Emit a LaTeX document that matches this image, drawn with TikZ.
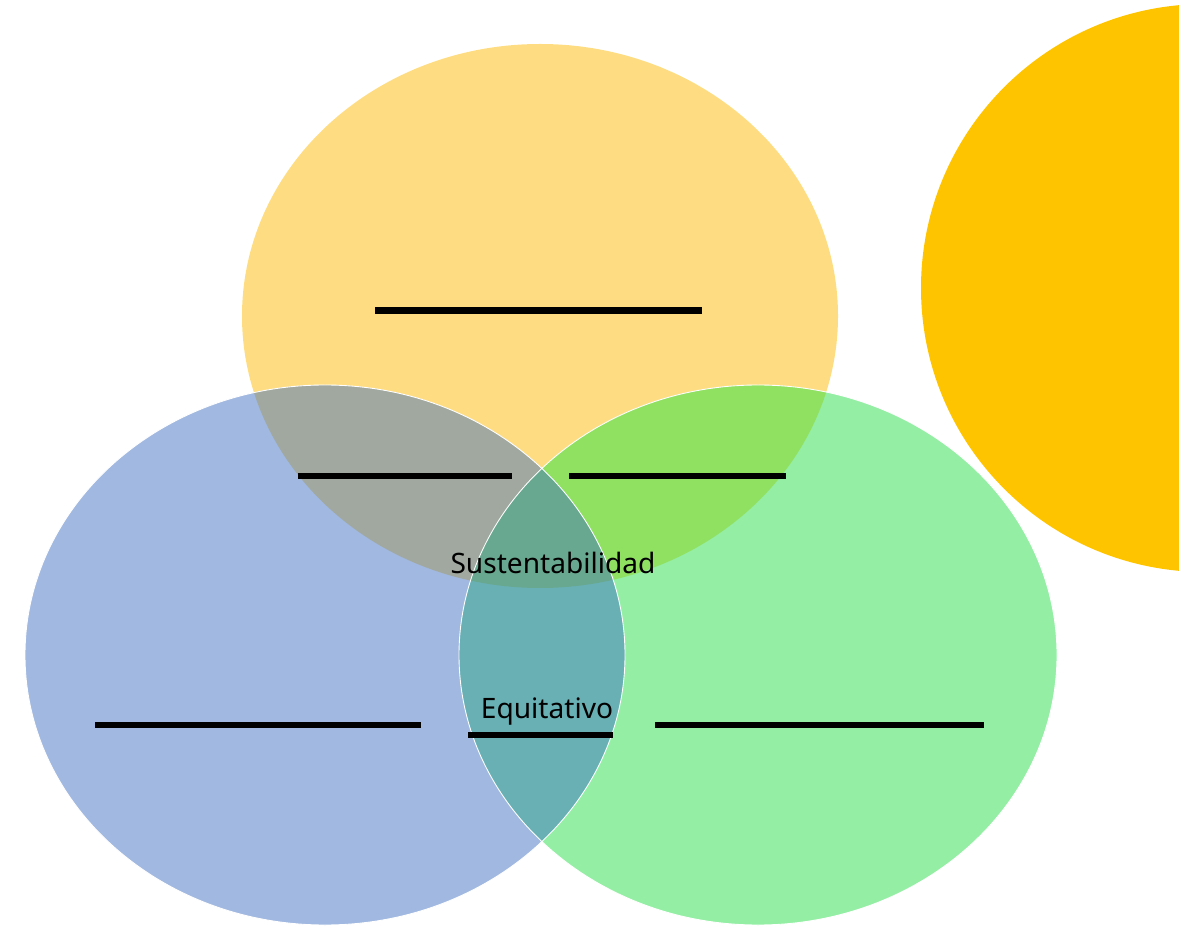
\documentclass[tikz,border=0pt]{standalone}
\usepackage{fontspec}
\setmainfont{Noto Sans}
\usepackage{tikz}
\usetikzlibrary{positioning}

\definecolor{setyellow}{HTML}{FEDD82}
\definecolor{setblue}{HTML}{A1B8E0}
\definecolor{setgreen}{HTML}{94EEA4}
\definecolor{sunorange}{HTML}{FFC400}
\definecolor{yellowblue}{HTML}{A0A8A0}
\definecolor{yellowgreen}{HTML}{90E062}
\definecolor{bluegreen}{HTML}{68B0B4}
\definecolor{allthree}{HTML}{68A890}

\def\ellyellow{(540,316) ellipse [x radius=298, y radius=272]}
\def\ellblue{(325,655) ellipse [x radius=300, y radius=270]}
\def\ellgreen{(758,655) ellipse [x radius=299, y radius=270]}

\begin{document}
\begin{tikzpicture}[x=0.02cm,y=-0.02cm,
    blank/.style={line width=3.9pt,line cap=butt},
    setlabel/.style={font=\fontsize{16}{19}\selectfont,inner sep=0pt}]
  \useasboundingbox (0,0) rectangle (1179,928);
  \clip (0,0) rectangle (1179,928);
  % sun on the right
  \fill[sunorange] (1205,288) circle [radius=284];
  % the three sets
  \fill[setyellow] \ellyellow;
  \fill[setblue] \ellblue;
  \fill[setgreen] \ellgreen;
  % overlaps
  \begin{scope}
    \clip \ellyellow;
    \fill[yellowblue] \ellblue;
    \fill[yellowgreen] \ellgreen;
  \end{scope}
  \begin{scope}
    \clip \ellblue;
    \fill[bluegreen] \ellgreen;
    \clip \ellyellow;
    \fill[allthree] \ellgreen;
  \end{scope}
  \draw[white,line width=0.5pt] \ellblue \ellgreen;
  % blanks
  \draw[blank] (375,310.5) -- (702,310.5);
  \draw[blank] (298,476) -- (512,476);
  \draw[blank] (569,476) -- (786,476);
  \draw[blank] (95,725) -- (421,725);
  \draw[blank] (655,725) -- (984,725);
  \node[setlabel] (sust) at (553,563) {Sustentabilidad};
  \node[setlabel] (equi) at (547,712) {Equitativo};
  \draw[blank] (468,735) -- (613,735);
\end{tikzpicture}
\end{document}
